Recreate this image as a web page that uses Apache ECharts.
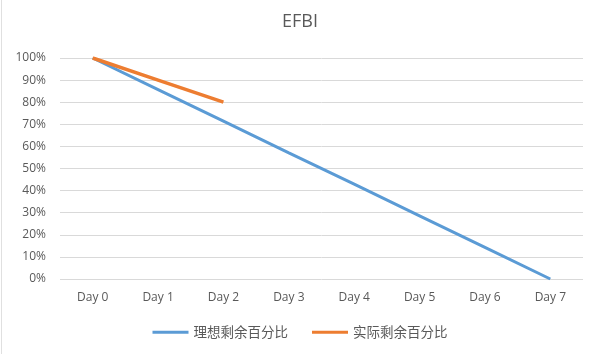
<!DOCTYPE html>
<html>
<head>
<meta charset="utf-8">
<script src="https://cdn.jsdelivr.net/npm/echarts@6/dist/echarts.min.js"></script>
<style>
  html, body { margin: 0; padding: 0; background: #fff; }
  #chart { width: 600px; height: 354px; }
</style>
</head>
<body>
<div id="chart"></div>
<script>
  const days = ['Day 0', 'Day 1', 'Day 2', 'Day 3', 'Day 4', 'Day 5', 'Day 6', 'Day 7'];
  const ideal = [100, 85.7, 71.4, 57.1, 42.9, 28.6, 14.3, 0];
  const actual = [100, 90, 80];

  const chart = echarts.init(document.getElementById('chart'));
  const font = '"Open Sans", "Noto Sans CJK SC", sans-serif';

  chart.setOption({
    animation: false,
    title: {
      text: 'EFBI',
      left: 'center',
      top: 8,
      textStyle: { fontSize: 18, fontWeight: 'normal', color: '#595959', fontFamily: font }
    },
    // faint frame edge on the left
    graphic: [{
      type: 'line',
      shape: { x1: 1.5, y1: 0, x2: 1.5, y2: 354 },
      style: { stroke: '#e0e0e0', lineWidth: 1 }
    }],
    legend: {
      bottom: 10,
      itemWidth: 36,
      itemHeight: 3,
      itemGap: 24,
      icon: 'rect',
      textStyle: { fontSize: 13.5, color: '#595959', fontFamily: '"Noto Sans CJK SC", sans-serif' },
      data: ['理想剩余百分比', '实际剩余百分比']
    },
    grid: { left: 60, right: 17, top: 58, bottom: 75 },
    xAxis: {
      type: 'category',
      data: days,
      boundaryGap: true,
      axisLine: { show: false },
      axisTick: { show: false },
      axisLabel: { color: '#595959', fontSize: 12, margin: 13, fontFamily: font }
    },
    yAxis: {
      type: 'value',
      min: 0,
      max: 100,
      interval: 10,
      axisLabel: { formatter: '{value}%', color: '#595959', fontSize: 12, margin: 14, fontFamily: font },
      splitLine: { lineStyle: { color: '#d9d9d9' } },
      axisLine: { show: false },
      axisTick: { show: false }
    },
    series: [
      {
        name: '理想剩余百分比',
        type: 'line',
        data: ideal,
        symbol: 'none',
        color: '#5b9bd5',
        lineStyle: { width: 3, color: '#5b9bd5' }
      },
      {
        name: '实际剩余百分比',
        type: 'line',
        data: actual,
        symbol: 'none',
        color: '#ed7d31',
        lineStyle: { width: 3.5, color: '#ed7d31' }
      }
    ]
  });
</script>
</body>
</html>
